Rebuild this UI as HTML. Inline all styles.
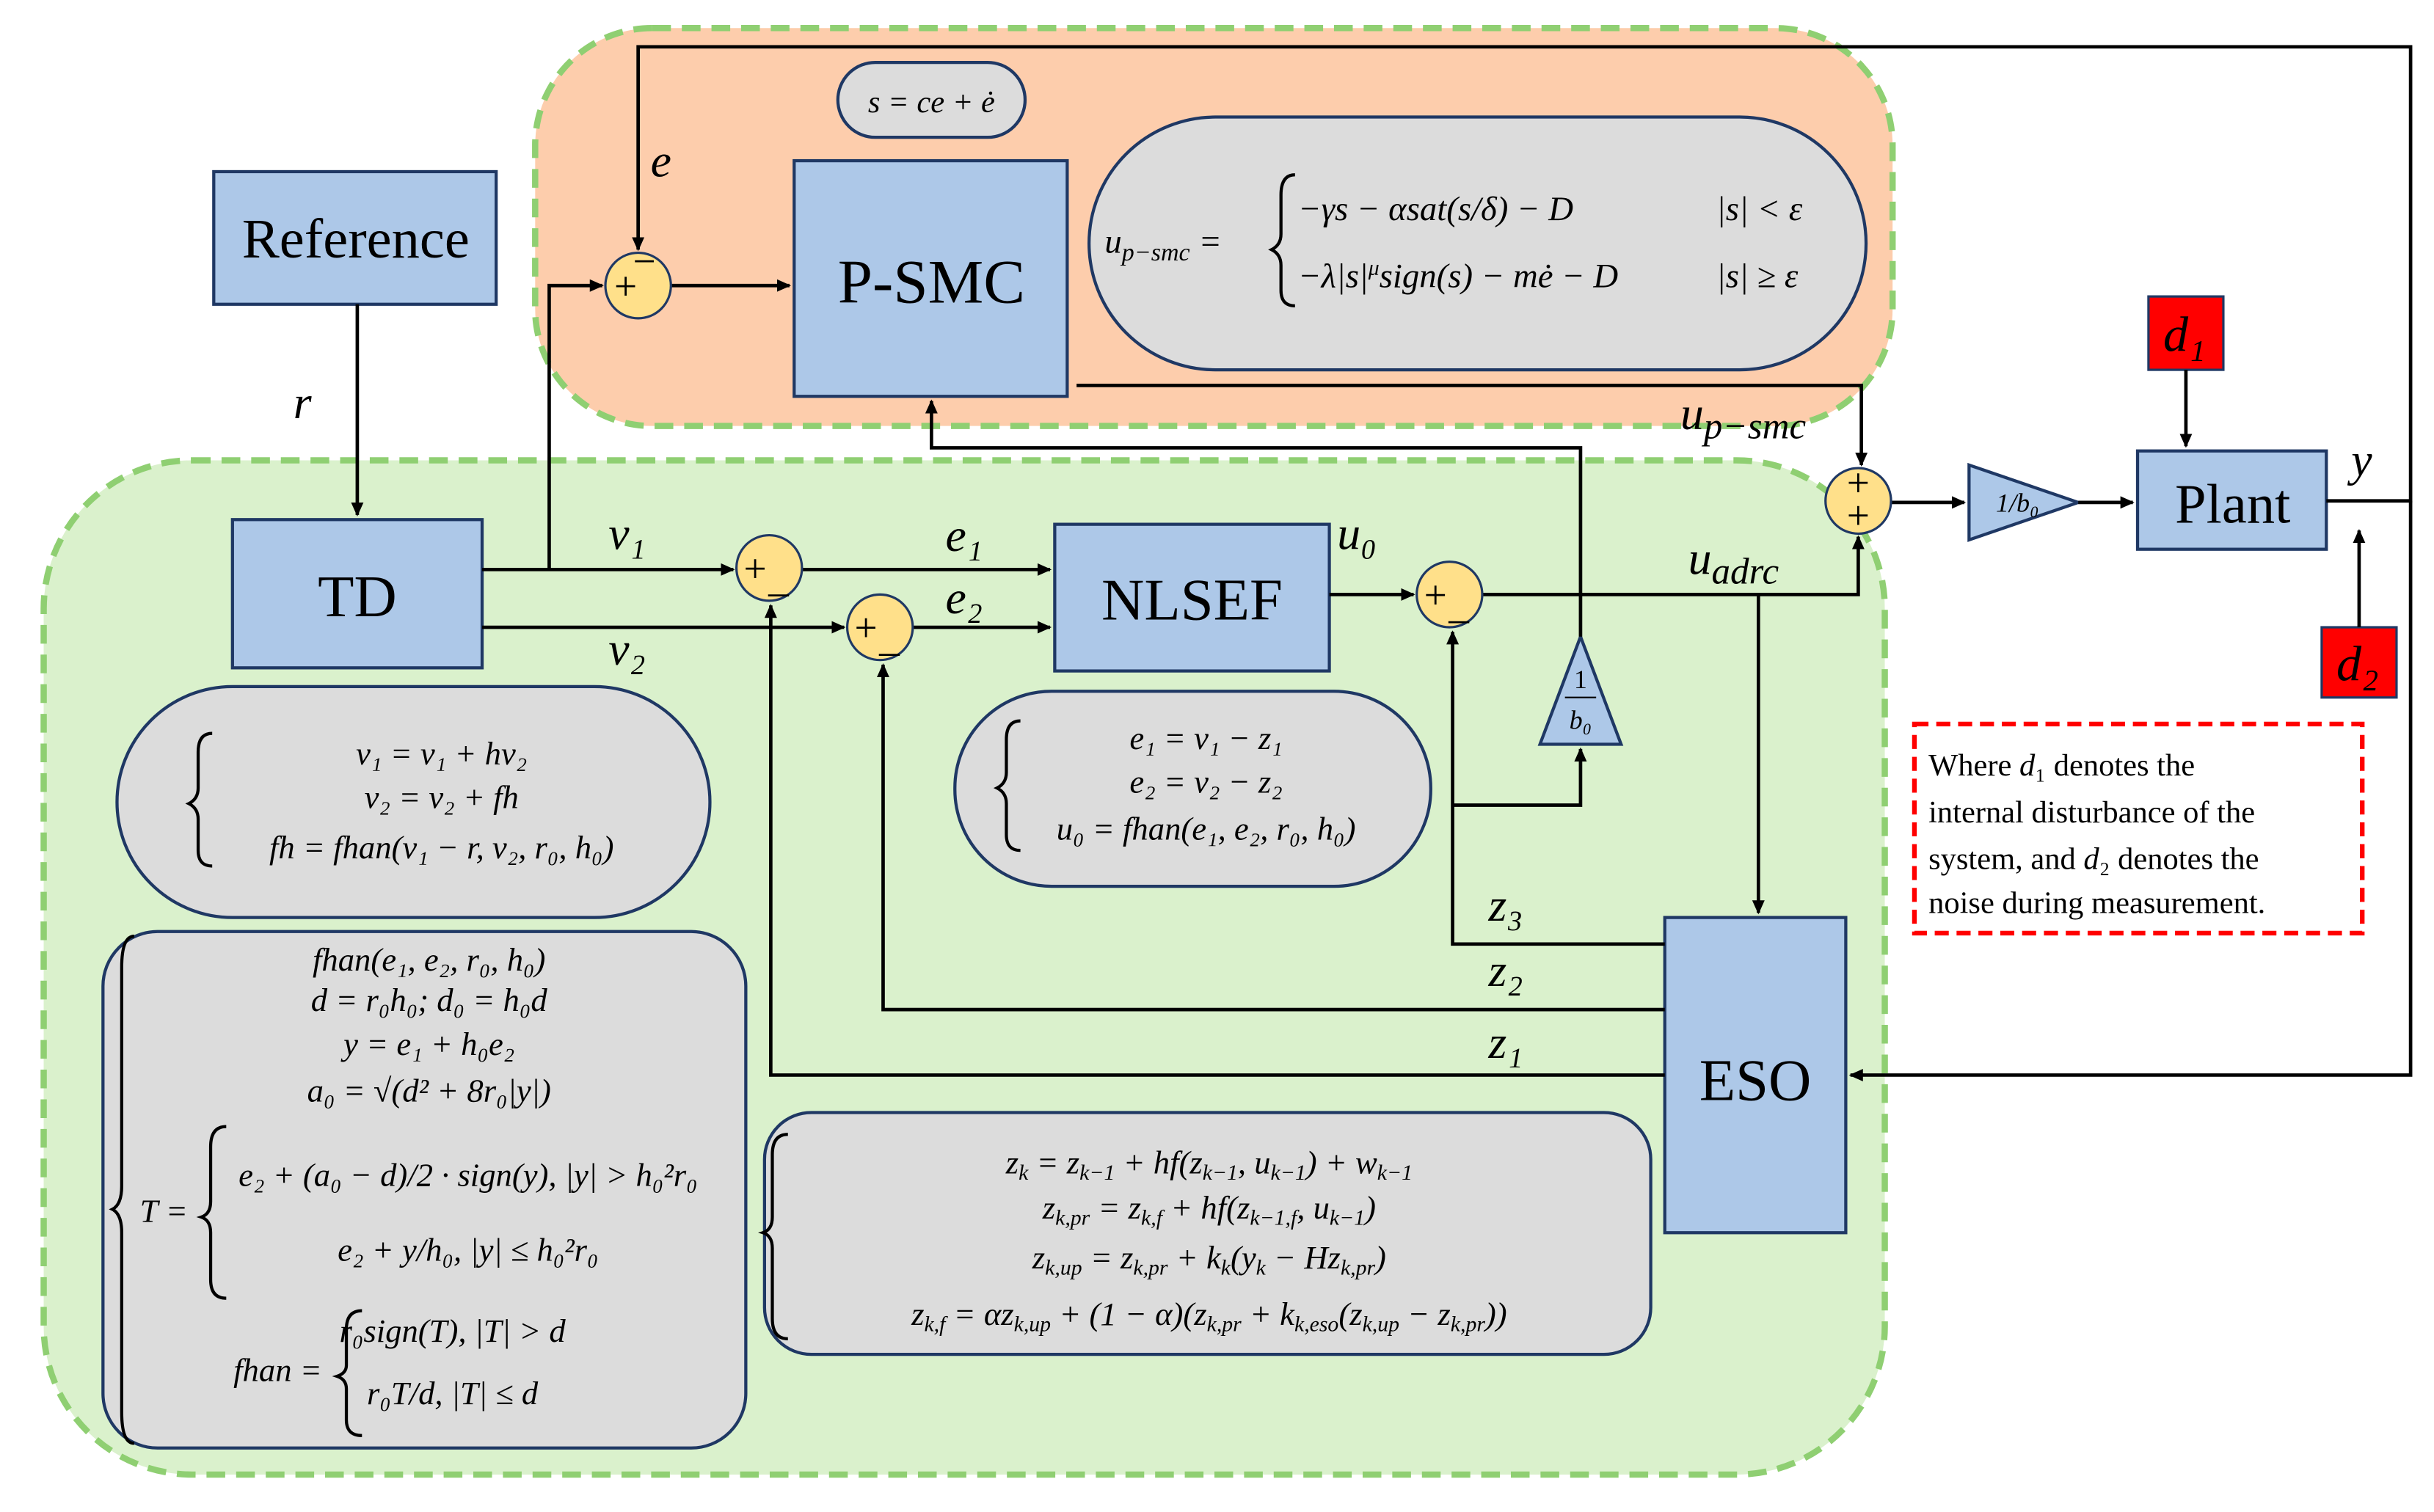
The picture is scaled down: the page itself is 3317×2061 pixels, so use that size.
<!DOCTYPE html>
<html><head><meta charset="utf-8"><style>
html,body{margin:0;padding:0;background:#fff;}
svg{display:block;}
text{font-family:"Liberation Serif",serif;fill:#000;}
.m{font-style:italic;}
</style></head><body>
<svg width="3317" height="2061" viewBox="0 0 1560 969" preserveAspectRatio="none" xmlns="http://www.w3.org/2000/svg">
<defs><marker id="a" markerWidth="10" markerHeight="10" refX="8" refY="5" orient="auto" markerUnits="userSpaceOnUse"><path d="M0,1 L9,5 L0,9 z" fill="#000"/></marker></defs>
<rect width="1560" height="969" fill="#fff"/>
<rect x="343" y="18" width="870" height="255" rx="75" fill="#fdcdac" stroke="#8fcf72" stroke-width="4" stroke-dasharray="12,7"/>
<rect x="28" y="295" width="1180" height="650" rx="95" fill="#daf1cc" stroke="#8fcf72" stroke-width="4" stroke-dasharray="12,7"/>
<g fill="#dcdcdc" stroke="#1f3864" stroke-width="2">
<rect x="537" y="40" width="120" height="48" rx="24"/>
<rect x="698" y="75" width="498" height="162" rx="81"/>
<rect x="75" y="440" width="380" height="148" rx="74"/>
<rect x="612" y="443" width="305" height="125" rx="62"/>
<rect x="66" y="597" width="412" height="331" rx="35"/>
<rect x="490" y="713" width="568" height="155" rx="30"/>
</g>
<g fill="#adc8e8" stroke="#1f3864" stroke-width="2">
<rect x="137" y="110" width="181" height="85"/>
<rect x="149" y="333" width="160" height="95"/>
<rect x="509" y="103" width="175" height="151"/>
<rect x="676" y="336" width="176" height="94"/>
<rect x="1067" y="588" width="116" height="202"/>
<rect x="1370" y="289" width="121" height="63"/>
<polygon points="1262,298 1332,322 1262,346"/>
<polygon points="1013,408 1039,477 987,477"/>
</g>
<g fill="#ff0000" stroke="#1f3864" stroke-width="1.5">
<rect x="1377" y="190" width="48" height="47"/>
<rect x="1488" y="402" width="48" height="45"/>
</g>
<rect x="1227" y="464" width="287" height="134" fill="#fff" stroke="#ff0000" stroke-width="3" stroke-dasharray="9,5"/>
<g stroke="#000" stroke-width="2.2" fill="none">
<path d="M1491,321 H1545 V30 H409 V160" marker-end="url(#a)"/>
<path d="M1545,321 V689 H1186" marker-end="url(#a)"/>
<path d="M229,195 V330" marker-end="url(#a)"/>
<path d="M309,365 H470" marker-end="url(#a)"/>
<path d="M352,365 V183 H386" marker-end="url(#a)"/>
<path d="M430,183 H506" marker-end="url(#a)"/>
<path d="M309,402 H541" marker-end="url(#a)"/>
<path d="M514,365 H673" marker-end="url(#a)"/>
<path d="M585,402 H673" marker-end="url(#a)"/>
<path d="M852,381 H906" marker-end="url(#a)"/>
<path d="M950,381 H1191 V344" marker-end="url(#a)"/>
<path d="M1127,381 V585" marker-end="url(#a)"/>
<path d="M690,247 H1193 V298" marker-end="url(#a)"/>
<path d="M1212,322 H1259" marker-end="url(#a)"/>
<path d="M1332,322 H1367" marker-end="url(#a)"/>
<path d="M1401,237 V286" marker-end="url(#a)"/>
<path d="M1512,402 V340" marker-end="url(#a)"/>
<path d="M1067,605 H931 V405" marker-end="url(#a)"/>
<path d="M931,516 H1013 V480" marker-end="url(#a)"/>
<path d="M1013,408 V287 H597 V257" marker-end="url(#a)"/>
<path d="M1067,647 H566 V426" marker-end="url(#a)"/>
<path d="M1067,689 H494 V388" marker-end="url(#a)"/>
</g>
<g fill="#ffe08a" stroke="#1f3864" stroke-width="1.5">
<circle cx="409" cy="183" r="21"/><circle cx="493" cy="364" r="21"/>
<circle cx="564" cy="402" r="21"/><circle cx="929" cy="381" r="21"/>
<circle cx="1191" cy="321" r="21"/>
</g>
<g font-size="26" text-anchor="middle" font-family="Liberation Sans">
<text x="401" y="192" font-family="Liberation Sans">+</text><text x="413" y="176" font-family="Liberation Sans">−</text>
<text x="484" y="373" font-family="Liberation Sans">+</text><text x="499" y="379" font-family="Liberation Sans">_</text>
<text x="555" y="411" font-family="Liberation Sans">+</text><text x="570" y="417" font-family="Liberation Sans">_</text>
<text x="920" y="390" font-family="Liberation Sans">+</text><text x="935" y="396" font-family="Liberation Sans">_</text>
<text x="1191" y="318" font-family="Liberation Sans">+</text><text x="1191" y="339" font-family="Liberation Sans">+</text>
</g>
<g text-anchor="middle">
<text x="228" y="165" font-size="36">Reference</text>
<text x="229" y="395" font-size="38">TD</text>
<text x="597" y="194" font-size="40">P-SMC</text>
<text x="764" y="397" font-size="38">NLSEF</text>
<text x="1125" y="705" font-size="38">ESO</text>
<text x="1431" y="335" font-size="36">Plant</text>
<text x="1293" y="328" font-size="17" class="m">1/b₀</text>
<text x="1013" y="441" font-size="17">1</text>
<line x1="1003" y1="447" x2="1023" y2="447" stroke="#000" stroke-width="1"/>
<text x="1013" y="467" font-size="17" class="m">b₀</text>
<text x="1400" y="225" font-size="32" class="m">d₁</text>
<text x="1511" y="436" font-size="32" class="m">d₂</text>
</g>
<g class="m" font-size="30">
<text x="188" y="268">r</text>
<text x="417" y="113">e</text>
<text x="390" y="352">v₁</text>
<text x="390" y="426">v₂</text>
<text x="606" y="353">e₁</text>
<text x="606" y="393">e₂</text>
<text x="857" y="352">u₀</text>
<text x="1082" y="368">u<tspan font-size="24" dy="6">adrc</tspan></text>
<text x="1077" y="275">u<tspan font-size="24" dy="6">p−smc</tspan></text>
<text x="1507" y="305">y</text>
<text x="954" y="590">z₃</text>
<text x="954" y="632">z₂</text>
<text x="954" y="678">z₁</text>
</g>
<text x="597" y="72" font-size="20" text-anchor="middle" class="m">s = ce + ė</text>
<g font-size="22" class="m">
<text x="708" y="162">u<tspan font-size="16" dy="5">p−smc</tspan><tspan dy="-5"> =</tspan></text>
<text x="832" y="141">−γs − αsat(s/δ) − D</text><text x="1100" y="141">|s| &lt; ε</text>
<text x="832" y="184">−λ|s|<tspan font-size="14" dy="-8">μ</tspan><tspan dy="8">sign(s) − mė − D</tspan></text><text x="1100" y="184">|s| ≥ ε</text>
</g>
<g font-size="21" class="m" text-anchor="middle">
<text x="283" y="490">v₁ = v₁ + hv₂</text>
<text x="283" y="518">v₂ = v₂ + fh</text>
<text x="283" y="550">fh = fhan(v₁ − r, v₂, r₀, h₀)</text>
<text x="773" y="480">e₁ = v₁ − z₁</text>
<text x="773" y="508">e₂ = v₂ − z₂</text>
<text x="773" y="538">u₀ = fhan(e₁, e₂, r₀, h₀)</text>
<text x="275" y="622">fhan(e₁, e₂, r₀, h₀)</text>
<text x="275" y="648">d = r₀h₀; d₀ = h₀d</text>
<text x="275" y="676">y = e₁ + h₀e₂</text>
<text x="275" y="706">a₀ = √(d² + 8r₀|y|)</text>
<text x="300" y="760">e₂ + (a₀ − d)/2 · sign(y),   |y| &gt; h₀²r₀</text>
<text x="300" y="808">e₂ + y/h₀,         |y| ≤ h₀²r₀</text>
<text x="105" y="783">T =</text>
<text x="178" y="885">fhan =</text>
<text x="290" y="860">r₀sign(T),   |T| &gt; d</text>
<text x="290" y="900">r₀T/d,      |T| ≤ d</text>
<text x="775" y="752">z<tspan font-size="14" dy="4">k</tspan><tspan dy="-4"> = z</tspan><tspan font-size="14" dy="4">k−1</tspan><tspan dy="-4"> + hf(z</tspan><tspan font-size="14" dy="4">k−1</tspan><tspan dy="-4">, u</tspan><tspan font-size="14" dy="4">k−1</tspan><tspan dy="-4">) + w</tspan><tspan font-size="14" dy="4">k−1</tspan></text>
<text x="775" y="781">z<tspan font-size="14" dy="4">k,pr</tspan><tspan dy="-4"> = z</tspan><tspan font-size="14" dy="4">k,f</tspan><tspan dy="-4"> + hf(z</tspan><tspan font-size="14" dy="4">k−1,f</tspan><tspan dy="-4">, u</tspan><tspan font-size="14" dy="4">k−1</tspan><tspan dy="-4">)</tspan></text>
<text x="775" y="813">z<tspan font-size="14" dy="4">k,up</tspan><tspan dy="-4"> = z</tspan><tspan font-size="14" dy="4">k,pr</tspan><tspan dy="-4"> + k</tspan><tspan font-size="14" dy="4">k</tspan><tspan dy="-4">(y</tspan><tspan font-size="14" dy="4">k</tspan><tspan dy="-4"> − Hz</tspan><tspan font-size="14" dy="4">k,pr</tspan><tspan dy="-4">)</tspan></text>
<text x="775" y="849">z<tspan font-size="14" dy="4">k,f</tspan><tspan dy="-4"> = αz</tspan><tspan font-size="14" dy="4">k,up</tspan><tspan dy="-4"> + (1 − α)(z</tspan><tspan font-size="14" dy="4">k,pr</tspan><tspan dy="-4"> + k</tspan><tspan font-size="14" dy="4">k,eso</tspan><tspan dy="-4">(z</tspan><tspan font-size="14" dy="4">k,up</tspan><tspan dy="-4"> − z</tspan><tspan font-size="14" dy="4">k,pr</tspan><tspan dy="-4">))</tspan></text>
</g>
<g stroke="#000" stroke-width="2" fill="none">
<path d="M86,600 Q78,600 78,620 V760 Q78,772 72,775 Q78,778 78,790 V905 Q78,925 86,925"/>
<path d="M145,722 Q135,722 135,735 V770 Q135,778 129,780 Q135,782 135,790 V820 Q135,832 145,832"/>
<path d="M232,840 Q222,840 222,852 V875 Q222,880 216,882 Q222,884 222,890 V910 Q222,920 232,920"/>
<path d="M505,727 Q495,727 495,740 V780 Q495,788 489,790 Q495,792 495,800 V845 Q495,858 505,858"/>
<path d="M830,112 Q821,112 821,125 V150 Q821,157 815,160 Q821,163 821,170 V186 Q821,196 830,196"/>
<path d="M136,470 Q127,470 127,482 V505 Q127,512 121,515 Q127,518 127,525 V545 Q127,555 136,555"/>
<path d="M654,462 Q645,462 645,474 V495 Q645,502 639,505 Q645,508 645,515 V535 Q645,545 654,545"/>
</g>
<g font-size="20">
<text x="1236" y="497">Where <tspan class="m">d</tspan>₁ denotes the</text>
<text x="1236" y="527">internal disturbance of the</text>
<text x="1236" y="557">system, and <tspan class="m">d</tspan>₂ denotes the</text>
<text x="1236" y="585">noise during measurement.</text>
</g>
</svg>
</body></html>
